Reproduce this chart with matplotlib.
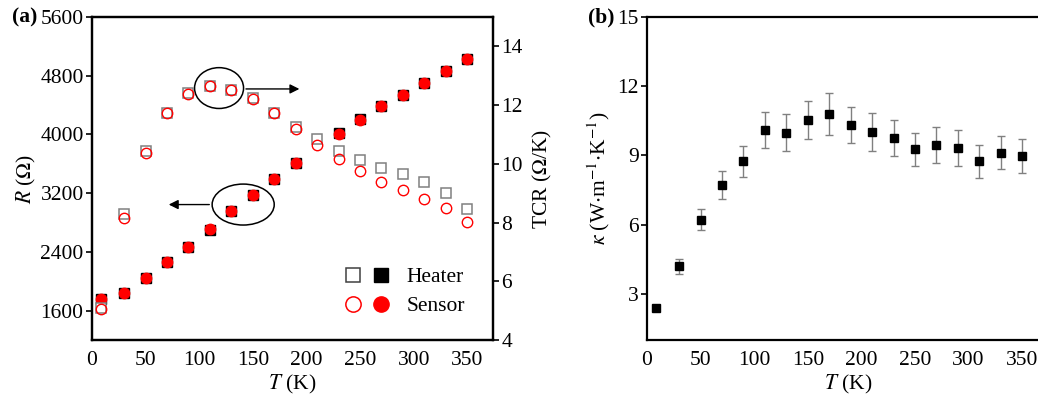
import numpy as np
import matplotlib.pyplot as plt
from matplotlib.patches import Ellipse
from matplotlib.legend_handler import HandlerTuple

plt.rcParams['font.family'] = ['Liberation Serif', 'DejaVu Serif']
plt.rcParams['mathtext.fontset'] = 'stix'

# (a) resistance (filled) and TCR (open) vs temperature
T_R = [8, 30, 50, 70, 90, 110, 130, 150, 170, 190, 230, 250, 270, 290, 310, 330, 350]
R_heater = [1755, 1835, 2040, 2262, 2470, 2700, 2956, 3178, 3392, 3605, 4015, 4215, 4385, 4544, 4702, 4871, 5034]
R_sensor = [1760, 1837, 2049, 2262, 2471, 2712, 2956, 3178, 3392, 3605, 4013, 4194, 4385, 4544, 4702, 4871, 5034]

T_tcr = [8, 30, 50, 70, 90, 110, 130, 150, 170, 190, 210, 230, 250, 270, 290, 310, 330, 350]
tcr_heater = [5.08, 8.30, 10.43, 11.74, 12.42, 12.66, 12.53, 12.24, 11.74, 11.26, 10.85, 10.43, 10.13, 9.87, 9.66, 9.38, 9.02, 8.45]
tcr_sensor = [5.05, 8.15, 10.36, 11.74, 12.38, 12.66, 12.53, 12.20, 11.74, 11.20, 10.64, 10.17, 9.77, 9.37, 9.11, 8.79, 8.48, 8.03]

# (b) thermal conductivity
T_k = [8, 30, 50, 70, 90, 110, 130, 150, 170, 190, 210, 230, 250, 270, 290, 310, 330, 350]
kappa = [2.38, 4.20, 6.22, 7.73, 8.74, 10.10, 9.98, 10.53, 10.81, 10.33, 10.01, 9.74, 9.26, 9.45, 9.32, 8.74, 9.12, 8.96]
kappa_err = [0.0, 0.32, 0.47, 0.61, 0.66, 0.78, 0.80, 0.83, 0.91, 0.77, 0.83, 0.78, 0.70, 0.79, 0.78, 0.70, 0.72, 0.74]

fs = 15.5
W, H = 1038, 403
fig = plt.figure(figsize=(W / 100, H / 100), dpi=100)

def px_axes(x0, y0, x1, y1):
    return fig.add_axes([x0 / W, (H - y1) / H, (x1 - x0) / W, (y1 - y0) / H])

ax = px_axes(92, 17, 493, 340)
ax2 = ax.twinx()

red = '#ff0000'
grey = '#808080'

ax.plot(T_R, R_heater, 's', color='black', ms=6.5, ls='none', zorder=3)
ax.plot(T_R, R_sensor, 'o', color=red, ms=7.5, ls='none', zorder=4)
ax2.plot(T_tcr, tcr_heater, 's', mfc='white', mec=grey, mew=1.1, ms=6.5, ls='none')
ax2.plot(T_tcr, tcr_sensor, 'o', mfc='none', mec=red, mew=1.0, ms=7.5, ls='none')

ax.set_xlim(0, 374)
ax.set_ylim(1200, 5600)
ax.set_yticks([1600, 2400, 3200, 4000, 4800, 5600])
ax.set_xticks(range(0, 351, 50))
ax2.set_ylim(4, 15)
ax2.set_yticks([4, 6, 8, 10, 12, 14])

for a in (ax, ax2):
    for s in a.spines.values():
        s.set_linewidth(1.6)
    a.tick_params(axis='y', direction='out', length=4, width=1.2, labelsize=fs, pad=2)
    a.tick_params(axis='x', length=0, labelsize=fs, pad=8)

ax.set_xlabel(r'$T$ (K)', fontsize=fs, labelpad=2)
ax.set_ylabel(r'$R$ ($\Omega$)', fontsize=fs, labelpad=2)
ax2.set_ylabel(r'TCR ($\Omega$/K)', fontsize=fs, labelpad=6)

# annotations: circled groups with arrows to the matching axis
ax2.add_patch(Ellipse((118.5, 12.58), 45.7, 1.39, fill=False, ec='black', lw=1.1))
ax2.annotate('', xy=(196, 12.55), xytext=(141, 12.55),
             arrowprops=dict(arrowstyle='-|>', color='black', lw=1.0, mutation_scale=14))
ax.add_patch(Ellipse((141, 3045), 57.9, 558, fill=False, ec='black', lw=1.1))
ax.annotate('', xy=(69, 3045), xytext=(112, 3045),
            arrowprops=dict(arrowstyle='-|>', color='black', lw=1.0, mutation_scale=14))

h_open_sq, = ax.plot([], [], 's', mfc='white', mec='#404040', mew=1.1, ms=10)
h_fill_sq, = ax.plot([], [], 's', color='black', ms=10)
h_open_c, = ax.plot([], [], 'o', mfc='none', mec=red, mew=1.1, ms=11)
h_fill_c, = ax.plot([], [], 'o', color=red, ms=11)
ax.legend([(h_open_sq, h_fill_sq), (h_open_c, h_fill_c)], ['Heater', 'Sensor'],
          handler_map={tuple: HandlerTuple(ndivide=None, pad=0.6)},
          loc='upper left', bbox_to_anchor=(0.585, 0.285), frameon=False,
          fontsize=fs, handlelength=2.0, handletextpad=0.8, labelspacing=0.4)

fig.text(12 / W, 1 - 17 / H, '(a)', fontsize=fs, fontweight='bold', va='center', ha='left')

# (b)
bx = px_axes(647, 17, 1049, 340)
bx.errorbar(T_k, kappa, yerr=kappa_err, fmt='none', ecolor=grey, elinewidth=1.0,
            capsize=3, capthick=1.0)
bx.plot(T_k, kappa, 's', color='black', ms=5.5, ls='none', zorder=3)
bx.set_xlim(0, 375)
bx.set_ylim(1, 15)
bx.set_yticks([3, 6, 9, 12, 15])
bx.set_xticks(range(0, 351, 50))
for s in bx.spines.values():
    s.set_linewidth(1.6)
bx.tick_params(axis='y', direction='out', length=4, width=1.2, labelsize=fs, pad=2)
bx.tick_params(axis='x', length=0, labelsize=fs, pad=8)
bx.set_xlabel(r'$T$ (K)', fontsize=fs, labelpad=2)
bx.set_ylabel(r'$\kappa$ (W$\cdot$m$^{-1}$$\cdot$K$^{-1}$)', fontsize=fs, labelpad=4)

fig.text(588 / W, 1 - 17 / H, '(b)', fontsize=fs, fontweight='bold', va='center', ha='left')

fig.savefig('out.png', dpi=100)
